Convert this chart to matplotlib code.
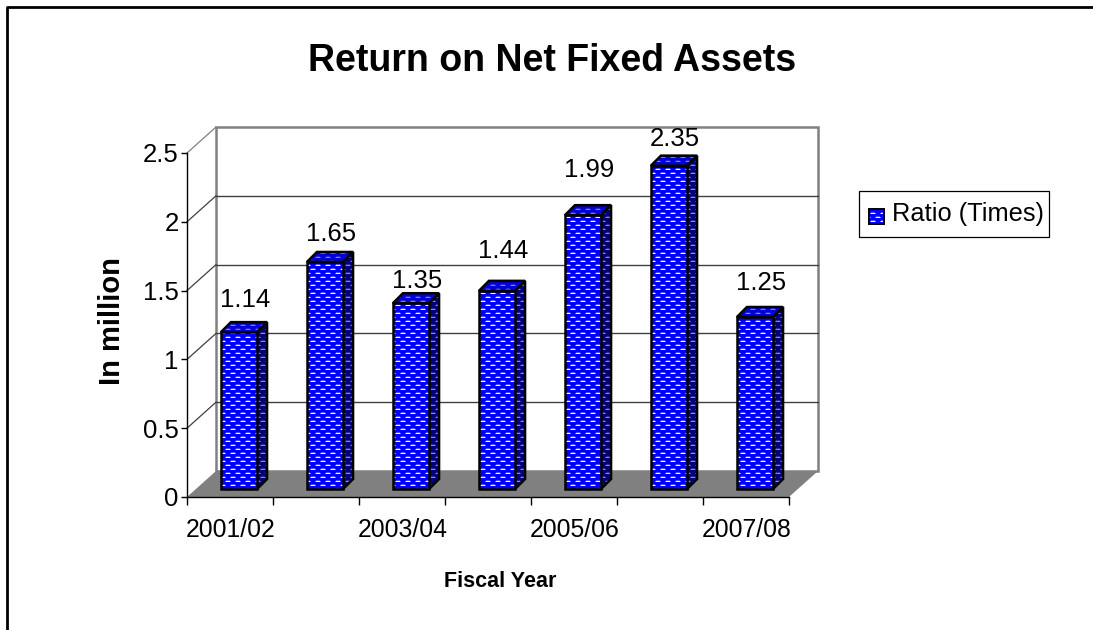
"""Return on Net Fixed Assets, Excel style 3D column chart."""

import matplotlib

matplotlib.use("Agg")
import matplotlib.pyplot as plt
import numpy as np
from matplotlib.lines import Line2D
from matplotlib.patches import Polygon
from matplotlib.transforms import IdentityTransform

years = ["2001/02", "2002/03", "2003/04", "2004/05", "2005/06", "2006/07", "2007/08"]
shown_labels = ["2001/02", "", "2003/04", "", "2005/06", "", "2007/08"]
ratio = [1.14, 1.65, 1.35, 1.44, 1.99, 2.35, 1.25]
y_ticks = [0, 0.5, 1, 1.5, 2, 2.5]
y_labels = ["0", "0.5", "1", "1.5", "2", "2.5"]
# how far each value label sits above its column, in pixels
label_rise = [40, 36, 30, 48, 53, 35, 42]

W, H = 1093, 630
DPI = 100
IDENT = IdentityTransform()

plt.rcParams["font.family"] = ["Liberation Sans", "DejaVu Sans"]

fig = plt.figure(figsize=(W / DPI, H / DPI), dpi=DPI)

# page frame: only the top and left edges show
fig.add_artist(Line2D([7 / W, 7 / W, 1], [0, 1 - 7 / H, 1 - 7 / H], color="black", lw=2))

# the axes is the front plane of the 3D box
ax = fig.add_axes([187 / W, 1 - 497 / H, 602 / W, 344 / H])
ax.patch.set_visible(False)
for name in ["top", "right"]:
    ax.spines[name].set_visible(False)


def dither(bg, fg):
    """Staggered dash texture, one pixel of it per pixel of the figure."""
    bg = np.array(bg)
    fg = np.array(fg)
    tile = np.zeros((8, 10, 3))
    tile[:, :] = bg
    tile[0, 1:5] = fg
    tile[4, 6:10] = fg
    tile[0, [0, 5]] = (bg + fg) / 2
    tile[4, [0, 5]] = (bg + fg) / 2
    tile[1, 1:5] = bg * 0.7 + fg * 0.3
    tile[5, 6:10] = bg * 0.7 + fg * 0.3
    rows = H // 8 + 1
    cols = W // 10 + 1
    return np.tile(tile, (rows, cols, 1))[:H, :W]


FRONT = dither((0.0, 0.0, 1.0), (1.0, 1.0, 1.0))
SIDE = dither((0.0, 0.0, 0.5), (0.55, 0.55, 0.72))
TOP = dither((0.0, 0.0, 0.85), (0.5, 0.5, 0.8))


def textured(points, texture, zorder, lw=1.8):
    """Fill a polygon given in pixels with a texture and outline it in black."""
    clip = Polygon(points, closed=True, transform=IDENT)
    im = ax.imshow(texture, extent=(0, W, 0, H), origin="lower", interpolation="nearest",
                   aspect="auto", zorder=zorder)
    im.set_transform(IDENT)
    im.set_clip_box(fig.bbox)
    im.set_clip_path(clip)
    ax.add_patch(Polygon(points, closed=True, transform=IDENT, facecolor="none",
                         edgecolor="black", lw=lw, clip_on=False, zorder=zorder + 0.01))


ax.set_xlim(0, len(years))
ax.set_ylim(0, 2.5)
for name in ["left", "bottom"]:
    ax.spines[name].set_linewidth(1.0)


def to_px(x, y, dx=0.0, dy=0.0):
    px, py = ax.transData.transform((x, y))
    return (px + dx, py + dy)


DEPTH_X, DEPTH_Y = 29, 26
n = len(years)

# back wall
ax.add_patch(Polygon([to_px(0, 0, DEPTH_X, DEPTH_Y), to_px(n, 0, DEPTH_X, DEPTH_Y),
                      to_px(n, 2.5, DEPTH_X, DEPTH_Y), to_px(0, 2.5, DEPTH_X, DEPTH_Y)],
                     closed=True, transform=IDENT, facecolor="white", edgecolor="#808080",
                     lw=1.8, clip_on=False, zorder=1))

# gridlines on the wall, with the slanted part on the side wall
for t in y_ticks[1:]:
    color = "#808080" if t == 2.5 else "#404040"
    p0 = to_px(0, t)
    p1 = to_px(0, t, DEPTH_X, DEPTH_Y)
    p2 = to_px(n, t, DEPTH_X, DEPTH_Y)
    ax.add_line(Line2D([p0[0], p1[0]], [p0[1], p1[1]], color=color, lw=0.9,
                       transform=IDENT, clip_on=False, zorder=1.2))
    if t != 2.5:
        ax.add_line(Line2D([p1[0], p2[0]], [p1[1], p2[1]], color=color, lw=1.0,
                           transform=IDENT, clip_on=False, zorder=1.2))

# floor
ax.add_patch(Polygon([to_px(0, 0), to_px(n, 0), to_px(n, 0, DEPTH_X, DEPTH_Y),
                      to_px(0, 0, DEPTH_X, DEPTH_Y)],
                     closed=True, transform=IDENT, facecolor="#808080", edgecolor="none",
                     clip_on=False, zorder=1.5))

# columns
BAR_W = 0.42
BAR_DX, BAR_DY = 9, 8
SIDE_X, SIDE_Y = 10, 10
for i, value in enumerate(ratio):
    left = i + 0.5 - BAR_W / 2
    right = left + BAR_W
    z = 3 + i * 0.1
    a = to_px(left, 0, BAR_DX, BAR_DY)
    b = to_px(right, 0, BAR_DX, BAR_DY)
    c = to_px(right, value, BAR_DX, BAR_DY)
    d = to_px(left, value, BAR_DX, BAR_DY)
    b2 = (b[0] + SIDE_X, b[1] + SIDE_Y)
    c2 = (c[0] + SIDE_X, c[1] + SIDE_Y)
    d2 = (d[0] + SIDE_X, d[1] + SIDE_Y)
    textured([b, b2, c2, c], SIDE, z)
    textured([d, c, c2, d2], TOP, z)
    textured([a, b, c, d], FRONT, z + 0.02)
    ax.annotate(f"{value:.2f}", xy=(i + 0.5, value), xycoords="data",
                xytext=(15, label_rise[i]), textcoords="offset pixels",
                ha="center", va="center", fontsize=18.5, zorder=6, annotation_clip=False)

# ticks
ax.set_yticks(y_ticks)
ax.set_yticklabels(y_labels, fontsize=18.5)
ax.set_xticks(range(n + 1))
ax.set_xticklabels([""] * (n + 1))
ax.tick_params(axis="y", length=4, width=1.0, pad=2)
ax.tick_params(axis="x", length=6, width=1.0, direction="out")
for i, label in enumerate(shown_labels):
    if label:
        ax.annotate(label, xy=(i + 0.5, 0), xycoords="data", xytext=(1, -33),
                    textcoords="offset pixels", ha="center", va="center", fontsize=17.8,
                    annotation_clip=False)

ax.set_xlabel("Fiscal Year", fontsize=15.5, fontweight="bold")
ax.xaxis.set_label_coords(0.521, -0.215)
ax.set_ylabel("In million", fontsize=21, fontweight="bold")
ax.yaxis.set_label_coords(-0.102, 0.51)

fig.text(552 / W, 1 - 61 / H, "Return on Net Fixed Assets", ha="center", va="center",
         fontsize=27, fontweight="bold")

# legend
ax.add_patch(Polygon([(859, H - 237), (1049, H - 237), (1049, H - 191), (859, H - 191)],
                     closed=True, transform=IDENT, facecolor="white", edgecolor="black",
                     lw=0.9, clip_on=False, zorder=2))
textured([(869, H - 224), (884, H - 224), (884, H - 209), (869, H - 209)], FRONT, 2.5, lw=1.4)
fig.text(892 / W, 1 - 214 / H, "Ratio (Times)", ha="left", va="center", fontsize=18.3)

fig.savefig("out.png", dpi=DPI)
